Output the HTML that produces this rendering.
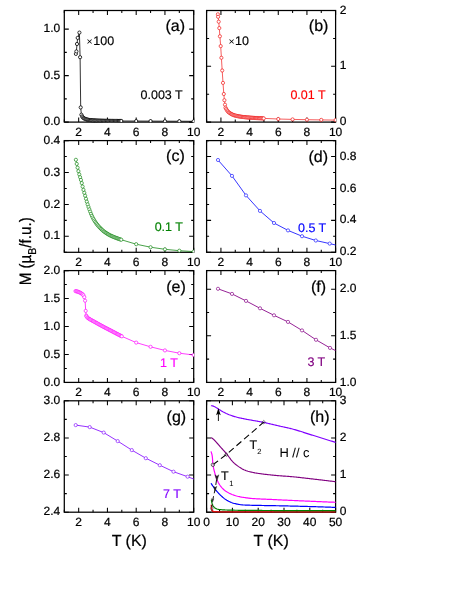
<!DOCTYPE html>
<html><head><meta charset="utf-8"><title>M(T)</title>
<style>
html,body{margin:0;padding:0;background:#fff;}
body{width:463px;height:599px;overflow:hidden;font-family:"Liberation Sans", sans-serif;}
svg{display:block;font-family:"Liberation Sans", sans-serif;text-rendering:geometricPrecision;will-change:transform;}
text{stroke-width:0.22px;stroke-linejoin:round;}
.tk{font-size:12px;fill:#000;stroke:#000;}
</style></head><body>
<svg width="463" height="599" viewBox="0 0 463 599">
<rect width="463" height="599" fill="#fff"/>
<rect x="64.3" y="10.5" width="129.4" height="111.6" fill="none" stroke="#000" stroke-width="1.25"/>
<path d="M78.68 122.1v-4.5M78.68 10.5v4.5M107.43 122.1v-4.5M107.43 10.5v4.5M136.19 122.1v-4.5M136.19 10.5v4.5M164.94 122.1v-4.5M164.94 10.5v4.5M193.7 122.1v-4.5M193.7 10.5v4.5M64.3 122.1v-2.5M64.3 10.5v2.5M93.06 122.1v-2.5M93.06 10.5v2.5M121.81 122.1v-2.5M121.81 10.5v2.5M150.57 122.1v-2.5M150.57 10.5v2.5M179.32 122.1v-2.5M179.32 10.5v2.5M64.3 122.1h4.5M193.7 122.1h-4.5M64.3 75.6h4.5M193.7 75.6h-4.5M64.3 29.1h4.5M193.7 29.1h-4.5M64.3 98.85h2.5M193.7 98.85h-2.5M64.3 52.35h2.5M193.7 52.35h-2.5" fill="none" stroke="#000" stroke-width="1.05"/>
<clipPath id="c1"><rect x="63.8" y="10" width="130.4" height="112.6"/></clipPath>
<text x="78.68" y="135.6" text-anchor="middle" class="tk">2</text>
<text x="107.43" y="135.6" text-anchor="middle" class="tk">4</text>
<text x="136.19" y="135.6" text-anchor="middle" class="tk">6</text>
<text x="164.94" y="135.6" text-anchor="middle" class="tk">8</text>
<text x="193.7" y="135.6" text-anchor="middle" class="tk">10</text>
<text x="60.2" y="125.2" text-anchor="end" class="tk">0.0</text>
<text x="60.2" y="78.7" text-anchor="end" class="tk">0.5</text>
<text x="60.2" y="32.2" text-anchor="end" class="tk">1.0</text>
<path clip-path="url(#c1)" d="M75.9 53.9L76.4 51.4L77 44L77.7 37.9L79.4 32.6L80.1 57.2L80.7 107.4L81.4 114.7L82.1 116.43L82.9 117.49L83.7 118.13L84.5 118.6L85.3 118.95L86.1 119.23L86.9 119.47L87.7 119.68L88.5 119.87L89.3 120.01L90.1 120.11L90.9 120.19L91.7 120.26L92.5 120.33L93.3 120.39L94.1 120.44L94.9 120.49L95.7 120.54L96.5 120.58L97.3 120.61L98.1 120.64L98.9 120.67L99.7 120.69L100.5 120.71L101.3 120.73L102.1 120.75L102.9 120.77L103.7 120.78L104.5 120.8L105.3 120.81L106.1 120.83L106.9 120.84L107.7 120.85L108.5 120.86L109.3 120.88L110.1 120.89L110.9 120.9L111.7 120.91L112.5 120.92L113.3 120.93L114.1 120.93L114.9 120.94L115.7 120.95L116.5 120.96L117.3 120.96L118.1 120.97L118.9 120.98L119.7 120.98L120.5 120.99L121.3 121L136.19 121.06L150.57 121.12L164.94 121.18L179.32 121.24L193.7 121.3" fill="none" stroke="#000" stroke-width="0.8" stroke-linejoin="round" />
<g clip-path="url(#c1)" fill="#fff" stroke="#000" stroke-width="0.8"><circle cx="75.9" cy="53.9" r="1.6"/><circle cx="76.4" cy="51.4" r="1.6"/><circle cx="77" cy="44" r="1.6"/><circle cx="77.7" cy="37.9" r="1.6"/><circle cx="79.4" cy="32.6" r="1.6"/><circle cx="80.1" cy="57.2" r="1.6"/><circle cx="80.7" cy="107.4" r="1.6"/><circle cx="81.4" cy="114.7" r="1.6"/><circle cx="82.1" cy="116.43" r="1.6"/><circle cx="82.9" cy="117.49" r="1.6"/><circle cx="83.7" cy="118.13" r="1.6"/><circle cx="84.5" cy="118.6" r="1.6"/><circle cx="85.3" cy="118.95" r="1.6"/><circle cx="86.1" cy="119.23" r="1.6"/><circle cx="86.9" cy="119.47" r="1.6"/><circle cx="87.7" cy="119.68" r="1.6"/><circle cx="88.5" cy="119.87" r="1.6"/><circle cx="89.3" cy="120.01" r="1.6"/><circle cx="90.1" cy="120.11" r="1.6"/><circle cx="90.9" cy="120.19" r="1.6"/><circle cx="91.7" cy="120.26" r="1.6"/><circle cx="92.5" cy="120.33" r="1.6"/><circle cx="93.3" cy="120.39" r="1.6"/><circle cx="94.1" cy="120.44" r="1.6"/><circle cx="94.9" cy="120.49" r="1.6"/><circle cx="95.7" cy="120.54" r="1.6"/><circle cx="96.5" cy="120.58" r="1.6"/><circle cx="97.3" cy="120.61" r="1.6"/><circle cx="98.1" cy="120.64" r="1.6"/><circle cx="98.9" cy="120.67" r="1.6"/><circle cx="99.7" cy="120.69" r="1.6"/><circle cx="100.5" cy="120.71" r="1.6"/><circle cx="101.3" cy="120.73" r="1.6"/><circle cx="102.1" cy="120.75" r="1.6"/><circle cx="102.9" cy="120.77" r="1.6"/><circle cx="103.7" cy="120.78" r="1.6"/><circle cx="104.5" cy="120.8" r="1.6"/><circle cx="105.3" cy="120.81" r="1.6"/><circle cx="106.1" cy="120.83" r="1.6"/><circle cx="106.9" cy="120.84" r="1.6"/><circle cx="107.7" cy="120.85" r="1.6"/><circle cx="108.5" cy="120.86" r="1.6"/><circle cx="109.3" cy="120.88" r="1.6"/><circle cx="110.1" cy="120.89" r="1.6"/><circle cx="110.9" cy="120.9" r="1.6"/><circle cx="111.7" cy="120.91" r="1.6"/><circle cx="112.5" cy="120.92" r="1.6"/><circle cx="113.3" cy="120.93" r="1.6"/><circle cx="114.1" cy="120.93" r="1.6"/><circle cx="114.9" cy="120.94" r="1.6"/><circle cx="115.7" cy="120.95" r="1.6"/><circle cx="116.5" cy="120.96" r="1.6"/><circle cx="117.3" cy="120.96" r="1.6"/><circle cx="118.1" cy="120.97" r="1.6"/><circle cx="118.9" cy="120.98" r="1.6"/><circle cx="119.7" cy="120.98" r="1.6"/><circle cx="120.5" cy="120.99" r="1.6"/><circle cx="121.3" cy="121" r="1.6"/><circle cx="136.19" cy="121.06" r="1.6"/><circle cx="150.57" cy="121.12" r="1.6"/><circle cx="164.94" cy="121.18" r="1.6"/><circle cx="179.32" cy="121.24" r="1.6"/><circle cx="193.7" cy="121.3" r="1.6"/></g>
<rect x="206.6" y="10.5" width="129" height="111.6" fill="none" stroke="#000" stroke-width="1.25"/>
<path d="M220.93 122.1v-4.5M220.93 10.5v4.5M249.6 122.1v-4.5M249.6 10.5v4.5M278.27 122.1v-4.5M278.27 10.5v4.5M306.93 122.1v-4.5M306.93 10.5v4.5M335.6 122.1v-4.5M335.6 10.5v4.5M206.6 122.1v-2.5M206.6 10.5v2.5M235.27 122.1v-2.5M235.27 10.5v2.5M263.93 122.1v-2.5M263.93 10.5v2.5M292.6 122.1v-2.5M292.6 10.5v2.5M321.27 122.1v-2.5M321.27 10.5v2.5M206.6 122.1h4.5M335.6 122.1h-4.5M206.6 66.3h4.5M335.6 66.3h-4.5M206.6 10.5h4.5M335.6 10.5h-4.5M206.6 94.2h2.5M335.6 94.2h-2.5M206.6 38.4h2.5M335.6 38.4h-2.5" fill="none" stroke="#000" stroke-width="1.05"/>
<clipPath id="c2"><rect x="206.1" y="10" width="130" height="112.6"/></clipPath>
<text x="220.93" y="135.6" text-anchor="middle" class="tk">2</text>
<text x="249.6" y="135.6" text-anchor="middle" class="tk">4</text>
<text x="278.27" y="135.6" text-anchor="middle" class="tk">6</text>
<text x="306.93" y="135.6" text-anchor="middle" class="tk">8</text>
<text x="335.6" y="135.6" text-anchor="middle" class="tk">10</text>
<text x="339.8" y="125.2" text-anchor="start" class="tk">0</text>
<text x="339.8" y="69.4" text-anchor="start" class="tk">1</text>
<text x="339.8" y="13.6" text-anchor="start" class="tk">2</text>
<path clip-path="url(#c2)" d="M217.9 14.3L218.1 16.8L218.7 21.7L219.3 28.1L219.9 36.3L220.7 46.1L221.4 57.8L222.2 70.5L223 82.9L223.8 94L224.4 100.2L225 104.7L225.5 107.7L226.2 109.09L227 110.36L227.8 111.39L228.6 112.16L229.4 112.79L230.2 113.33L231 113.82L231.8 114.28L232.6 114.67L233.4 115L234.2 115.27L235 115.51L235.8 115.72L236.6 115.91L237.4 116.08L238.2 116.24L239 116.38L239.8 116.51L240.6 116.64L241.4 116.75L242.2 116.86L243 116.96L243.8 117.06L244.6 117.15L245.4 117.23L246.2 117.31L247 117.38L247.8 117.45L248.6 117.52L249.4 117.58L250.2 117.64L251 117.7L251.8 117.76L252.6 117.81L253.4 117.86L254.2 117.91L255 117.96L255.8 118.01L256.6 118.05L257.4 118.09L258.2 118.13L259 118.17L259.8 118.21L260.6 118.25L261.4 118.29L262.2 118.32L263 118.36L263.8 118.4L278.27 119L292.6 119.4L306.93 119.7L321.27 119.9L335.6 120.1" fill="none" stroke="#f01818" stroke-width="0.7" stroke-linejoin="round" />
<g clip-path="url(#c2)" fill="#fff" stroke="#f01818" stroke-width="0.7"><circle cx="217.9" cy="14.3" r="1.6"/><circle cx="218.1" cy="16.8" r="1.6"/><circle cx="218.7" cy="21.7" r="1.6"/><circle cx="219.3" cy="28.1" r="1.6"/><circle cx="219.9" cy="36.3" r="1.6"/><circle cx="220.7" cy="46.1" r="1.6"/><circle cx="221.4" cy="57.8" r="1.6"/><circle cx="222.2" cy="70.5" r="1.6"/><circle cx="223" cy="82.9" r="1.6"/><circle cx="223.8" cy="94" r="1.6"/><circle cx="224.4" cy="100.2" r="1.6"/><circle cx="225" cy="104.7" r="1.6"/><circle cx="225.5" cy="107.7" r="1.6"/><circle cx="226.2" cy="109.09" r="1.6"/><circle cx="227" cy="110.36" r="1.6"/><circle cx="227.8" cy="111.39" r="1.6"/><circle cx="228.6" cy="112.16" r="1.6"/><circle cx="229.4" cy="112.79" r="1.6"/><circle cx="230.2" cy="113.33" r="1.6"/><circle cx="231" cy="113.82" r="1.6"/><circle cx="231.8" cy="114.28" r="1.6"/><circle cx="232.6" cy="114.67" r="1.6"/><circle cx="233.4" cy="115" r="1.6"/><circle cx="234.2" cy="115.27" r="1.6"/><circle cx="235" cy="115.51" r="1.6"/><circle cx="235.8" cy="115.72" r="1.6"/><circle cx="236.6" cy="115.91" r="1.6"/><circle cx="237.4" cy="116.08" r="1.6"/><circle cx="238.2" cy="116.24" r="1.6"/><circle cx="239" cy="116.38" r="1.6"/><circle cx="239.8" cy="116.51" r="1.6"/><circle cx="240.6" cy="116.64" r="1.6"/><circle cx="241.4" cy="116.75" r="1.6"/><circle cx="242.2" cy="116.86" r="1.6"/><circle cx="243" cy="116.96" r="1.6"/><circle cx="243.8" cy="117.06" r="1.6"/><circle cx="244.6" cy="117.15" r="1.6"/><circle cx="245.4" cy="117.23" r="1.6"/><circle cx="246.2" cy="117.31" r="1.6"/><circle cx="247" cy="117.38" r="1.6"/><circle cx="247.8" cy="117.45" r="1.6"/><circle cx="248.6" cy="117.52" r="1.6"/><circle cx="249.4" cy="117.58" r="1.6"/><circle cx="250.2" cy="117.64" r="1.6"/><circle cx="251" cy="117.7" r="1.6"/><circle cx="251.8" cy="117.76" r="1.6"/><circle cx="252.6" cy="117.81" r="1.6"/><circle cx="253.4" cy="117.86" r="1.6"/><circle cx="254.2" cy="117.91" r="1.6"/><circle cx="255" cy="117.96" r="1.6"/><circle cx="255.8" cy="118.01" r="1.6"/><circle cx="256.6" cy="118.05" r="1.6"/><circle cx="257.4" cy="118.09" r="1.6"/><circle cx="258.2" cy="118.13" r="1.6"/><circle cx="259" cy="118.17" r="1.6"/><circle cx="259.8" cy="118.21" r="1.6"/><circle cx="260.6" cy="118.25" r="1.6"/><circle cx="261.4" cy="118.29" r="1.6"/><circle cx="262.2" cy="118.32" r="1.6"/><circle cx="263" cy="118.36" r="1.6"/><circle cx="263.8" cy="118.4" r="1.6"/><circle cx="278.27" cy="119" r="1.6"/><circle cx="292.6" cy="119.4" r="1.6"/><circle cx="306.93" cy="119.7" r="1.6"/><circle cx="321.27" cy="119.9" r="1.6"/><circle cx="335.6" cy="120.1" r="1.6"/></g>
<rect x="64.3" y="140.6" width="129.4" height="111.7" fill="none" stroke="#000" stroke-width="1.25"/>
<path d="M78.68 252.3v-4.5M78.68 140.6v4.5M107.43 252.3v-4.5M107.43 140.6v4.5M136.19 252.3v-4.5M136.19 140.6v4.5M164.94 252.3v-4.5M164.94 140.6v4.5M193.7 252.3v-4.5M193.7 140.6v4.5M64.3 252.3v-2.5M64.3 140.6v2.5M93.06 252.3v-2.5M93.06 140.6v2.5M121.81 252.3v-2.5M121.81 140.6v2.5M150.57 252.3v-2.5M150.57 140.6v2.5M179.32 252.3v-2.5M179.32 140.6v2.5M64.3 236.34h4.5M193.7 236.34h-4.5M64.3 204.43h4.5M193.7 204.43h-4.5M64.3 172.51h4.5M193.7 172.51h-4.5M64.3 140.6h4.5M193.7 140.6h-4.5M64.3 252.3h2.5M193.7 252.3h-2.5M64.3 220.39h2.5M193.7 220.39h-2.5M64.3 188.47h2.5M193.7 188.47h-2.5M64.3 156.56h2.5M193.7 156.56h-2.5" fill="none" stroke="#000" stroke-width="1.05"/>
<clipPath id="c3"><rect x="63.8" y="140.1" width="130.4" height="112.7"/></clipPath>
<text x="78.68" y="265.8" text-anchor="middle" class="tk">2</text>
<text x="107.43" y="265.8" text-anchor="middle" class="tk">4</text>
<text x="136.19" y="265.8" text-anchor="middle" class="tk">6</text>
<text x="164.94" y="265.8" text-anchor="middle" class="tk">8</text>
<text x="193.7" y="265.8" text-anchor="middle" class="tk">10</text>
<text x="60.2" y="239.44" text-anchor="end" class="tk">0.1</text>
<text x="60.2" y="207.53" text-anchor="end" class="tk">0.2</text>
<text x="60.2" y="175.61" text-anchor="end" class="tk">0.3</text>
<text x="60.2" y="143.7" text-anchor="end" class="tk">0.4</text>
<path clip-path="url(#c3)" d="M75.9 159.8L76.74 163.91L77.58 167.68L78.42 171.15L79.26 174.35L80.1 177.2L80.94 179.93L81.78 183.07L82.62 186.58L83.46 189.86L84.3 192.83L85.14 195.74L85.98 198.76L86.82 201.7L87.66 204.4L88.5 206.94L89.34 209.35L90.18 211.66L91.02 213.79L91.86 215.74L92.7 217.5L93.54 219.1L94.38 220.58L95.22 221.94L96.06 223.15L96.9 224.27L97.74 225.32L98.58 226.3L99.42 227.22L100.26 228.09L101.1 228.92L101.94 229.72L102.78 230.47L103.62 231.17L104.46 231.82L105.3 232.43L106.14 233.01L106.98 233.56L107.82 234.08L108.66 234.58L109.5 235.04L110.34 235.47L111.18 235.88L112.02 236.26L112.86 236.62L113.7 236.97L114.54 237.31L115.38 237.64L116.22 237.96L117.06 238.27L117.9 238.58L118.74 238.87L119.58 239.16L120.42 239.45L121.26 239.72L136.19 244.2L150.57 247.21L164.94 249.31L179.32 250.7L193.7 251.6" fill="none" stroke="#1a8a1a" stroke-width="0.8" stroke-linejoin="round" />
<g clip-path="url(#c3)" fill="#fff" stroke="#1a8a1a" stroke-width="0.7"><circle cx="75.9" cy="159.8" r="1.6"/><circle cx="76.74" cy="163.91" r="1.6"/><circle cx="77.58" cy="167.68" r="1.6"/><circle cx="78.42" cy="171.15" r="1.6"/><circle cx="79.26" cy="174.35" r="1.6"/><circle cx="80.1" cy="177.2" r="1.6"/><circle cx="80.94" cy="179.93" r="1.6"/><circle cx="81.78" cy="183.07" r="1.6"/><circle cx="82.62" cy="186.58" r="1.6"/><circle cx="83.46" cy="189.86" r="1.6"/><circle cx="84.3" cy="192.83" r="1.6"/><circle cx="85.14" cy="195.74" r="1.6"/><circle cx="85.98" cy="198.76" r="1.6"/><circle cx="86.82" cy="201.7" r="1.6"/><circle cx="87.66" cy="204.4" r="1.6"/><circle cx="88.5" cy="206.94" r="1.6"/><circle cx="89.34" cy="209.35" r="1.6"/><circle cx="90.18" cy="211.66" r="1.6"/><circle cx="91.02" cy="213.79" r="1.6"/><circle cx="91.86" cy="215.74" r="1.6"/><circle cx="92.7" cy="217.5" r="1.6"/><circle cx="93.54" cy="219.1" r="1.6"/><circle cx="94.38" cy="220.58" r="1.6"/><circle cx="95.22" cy="221.94" r="1.6"/><circle cx="96.06" cy="223.15" r="1.6"/><circle cx="96.9" cy="224.27" r="1.6"/><circle cx="97.74" cy="225.32" r="1.6"/><circle cx="98.58" cy="226.3" r="1.6"/><circle cx="99.42" cy="227.22" r="1.6"/><circle cx="100.26" cy="228.09" r="1.6"/><circle cx="101.1" cy="228.92" r="1.6"/><circle cx="101.94" cy="229.72" r="1.6"/><circle cx="102.78" cy="230.47" r="1.6"/><circle cx="103.62" cy="231.17" r="1.6"/><circle cx="104.46" cy="231.82" r="1.6"/><circle cx="105.3" cy="232.43" r="1.6"/><circle cx="106.14" cy="233.01" r="1.6"/><circle cx="106.98" cy="233.56" r="1.6"/><circle cx="107.82" cy="234.08" r="1.6"/><circle cx="108.66" cy="234.58" r="1.6"/><circle cx="109.5" cy="235.04" r="1.6"/><circle cx="110.34" cy="235.47" r="1.6"/><circle cx="111.18" cy="235.88" r="1.6"/><circle cx="112.02" cy="236.26" r="1.6"/><circle cx="112.86" cy="236.62" r="1.6"/><circle cx="113.7" cy="236.97" r="1.6"/><circle cx="114.54" cy="237.31" r="1.6"/><circle cx="115.38" cy="237.64" r="1.6"/><circle cx="116.22" cy="237.96" r="1.6"/><circle cx="117.06" cy="238.27" r="1.6"/><circle cx="117.9" cy="238.58" r="1.6"/><circle cx="118.74" cy="238.87" r="1.6"/><circle cx="119.58" cy="239.16" r="1.6"/><circle cx="120.42" cy="239.45" r="1.6"/><circle cx="121.26" cy="239.72" r="1.6"/><circle cx="136.19" cy="244.2" r="1.6"/><circle cx="150.57" cy="247.21" r="1.6"/><circle cx="164.94" cy="249.31" r="1.6"/><circle cx="179.32" cy="250.7" r="1.6"/><circle cx="193.7" cy="251.6" r="1.6"/></g>
<rect x="206.6" y="140.6" width="129" height="111.7" fill="none" stroke="#000" stroke-width="1.25"/>
<path d="M220.93 252.3v-4.5M220.93 140.6v4.5M249.6 252.3v-4.5M249.6 140.6v4.5M278.27 252.3v-4.5M278.27 140.6v4.5M306.93 252.3v-4.5M306.93 140.6v4.5M335.6 252.3v-4.5M335.6 140.6v4.5M206.6 252.3v-2.5M206.6 140.6v2.5M235.27 252.3v-2.5M235.27 140.6v2.5M263.93 252.3v-2.5M263.93 140.6v2.5M292.6 252.3v-2.5M292.6 140.6v2.5M321.27 252.3v-2.5M321.27 140.6v2.5M206.6 252.3h4.5M335.6 252.3h-4.5M206.6 220.39h4.5M335.6 220.39h-4.5M206.6 188.47h4.5M335.6 188.47h-4.5M206.6 156.56h4.5M335.6 156.56h-4.5M206.6 236.34h2.5M335.6 236.34h-2.5M206.6 204.43h2.5M335.6 204.43h-2.5M206.6 172.51h2.5M335.6 172.51h-2.5M206.6 140.6h2.5M335.6 140.6h-2.5" fill="none" stroke="#000" stroke-width="1.05"/>
<clipPath id="c4"><rect x="206.1" y="140.1" width="130" height="112.7"/></clipPath>
<text x="220.93" y="265.8" text-anchor="middle" class="tk">2</text>
<text x="249.6" y="265.8" text-anchor="middle" class="tk">4</text>
<text x="278.27" y="265.8" text-anchor="middle" class="tk">6</text>
<text x="306.93" y="265.8" text-anchor="middle" class="tk">8</text>
<text x="335.6" y="265.8" text-anchor="middle" class="tk">10</text>
<text x="339.8" y="255.4" text-anchor="start" class="tk">0.2</text>
<text x="339.8" y="223.49" text-anchor="start" class="tk">0.4</text>
<text x="339.8" y="191.57" text-anchor="start" class="tk">0.6</text>
<text x="339.8" y="159.66" text-anchor="start" class="tk">0.8</text>
<path clip-path="url(#c4)" d="M218 160L232 175.9L246 195.4L260 210.9L274 223L288 230.4L302 236.2L315.8 240.5L329.7 243.6L335.6 245" fill="none" stroke="#2020ff" stroke-width="0.9" stroke-linejoin="round" />
<g clip-path="url(#c4)" fill="#fff" stroke="#2020ff" stroke-width="0.7"><circle cx="218" cy="160" r="1.6"/><circle cx="232" cy="175.9" r="1.6"/><circle cx="246" cy="195.4" r="1.6"/><circle cx="260" cy="210.9" r="1.6"/><circle cx="274" cy="223" r="1.6"/><circle cx="288" cy="230.4" r="1.6"/><circle cx="302" cy="236.2" r="1.6"/><circle cx="315.8" cy="240.5" r="1.6"/><circle cx="329.7" cy="243.6" r="1.6"/></g>
<rect x="64.3" y="270.6" width="129.4" height="111.8" fill="none" stroke="#000" stroke-width="1.25"/>
<path d="M78.68 382.4v-4.5M78.68 270.6v4.5M107.43 382.4v-4.5M107.43 270.6v4.5M136.19 382.4v-4.5M136.19 270.6v4.5M164.94 382.4v-4.5M164.94 270.6v4.5M193.7 382.4v-4.5M193.7 270.6v4.5M64.3 382.4v-2.5M64.3 270.6v2.5M93.06 382.4v-2.5M93.06 270.6v2.5M121.81 382.4v-2.5M121.81 270.6v2.5M150.57 382.4v-2.5M150.57 270.6v2.5M179.32 382.4v-2.5M179.32 270.6v2.5M64.3 382.4h4.5M193.7 382.4h-4.5M64.3 354.45h4.5M193.7 354.45h-4.5M64.3 326.5h4.5M193.7 326.5h-4.5M64.3 298.55h4.5M193.7 298.55h-4.5M64.3 270.6h4.5M193.7 270.6h-4.5M64.3 368.42h2.5M193.7 368.42h-2.5M64.3 340.48h2.5M193.7 340.48h-2.5M64.3 312.52h2.5M193.7 312.52h-2.5M64.3 284.58h2.5M193.7 284.58h-2.5" fill="none" stroke="#000" stroke-width="1.05"/>
<clipPath id="c5"><rect x="63.8" y="270.1" width="130.4" height="112.8"/></clipPath>
<text x="78.68" y="395.9" text-anchor="middle" class="tk">2</text>
<text x="107.43" y="395.9" text-anchor="middle" class="tk">4</text>
<text x="136.19" y="395.9" text-anchor="middle" class="tk">6</text>
<text x="164.94" y="395.9" text-anchor="middle" class="tk">8</text>
<text x="193.7" y="395.9" text-anchor="middle" class="tk">10</text>
<text x="60.2" y="385.5" text-anchor="end" class="tk">0.0</text>
<text x="60.2" y="357.55" text-anchor="end" class="tk">0.5</text>
<text x="60.2" y="329.6" text-anchor="end" class="tk">1.0</text>
<text x="60.2" y="301.65" text-anchor="end" class="tk">1.5</text>
<text x="60.2" y="273.7" text-anchor="end" class="tk">2.0</text>
<path clip-path="url(#c5)" d="M75.5 291.1L76.3 291.26L77.1 291.47L77.9 291.72L78.7 292.01L79.5 292.37L80.3 292.8L81.1 293.27L81.9 293.78L82.7 294.38L83.5 295.34L84.3 297.19L85.1 300.7L85.7 310.9L86.2 315.6L86.6 316.52L87.4 317.61L88.2 318.2L89 318.74L89.8 319.24L90.6 319.7L91.4 320.15L92.2 320.58L93 321.02L93.8 321.47L94.6 321.92L95.4 322.37L96.2 322.82L97 323.27L97.8 323.71L98.6 324.15L99.4 324.59L100.2 325.03L101 325.47L101.8 325.9L102.6 326.33L103.4 326.76L104.2 327.19L105 327.61L105.8 328.03L106.6 328.45L107.4 328.86L108.2 329.28L109 329.69L109.8 330.1L110.6 330.51L111.4 330.93L112.2 331.34L113 331.76L113.8 332.17L114.6 332.6L115.4 333.02L116.2 333.44L117 333.87L117.8 334.29L118.6 334.7L119.4 335.11L120.2 335.52L121 335.91L121.8 336.3L136.19 342.6L150.57 346.82L164.94 350.41L179.32 353.2L193.7 355" fill="none" stroke="#ff10ff" stroke-width="0.8" stroke-linejoin="round" />
<g clip-path="url(#c5)" fill="#fff" stroke="#ff10ff" stroke-width="0.7"><circle cx="75.5" cy="291.1" r="1.6"/><circle cx="76.3" cy="291.26" r="1.6"/><circle cx="77.1" cy="291.47" r="1.6"/><circle cx="77.9" cy="291.72" r="1.6"/><circle cx="78.7" cy="292.01" r="1.6"/><circle cx="79.5" cy="292.37" r="1.6"/><circle cx="80.3" cy="292.8" r="1.6"/><circle cx="81.1" cy="293.27" r="1.6"/><circle cx="81.9" cy="293.78" r="1.6"/><circle cx="82.7" cy="294.38" r="1.6"/><circle cx="83.5" cy="295.34" r="1.6"/><circle cx="84.3" cy="297.19" r="1.6"/><circle cx="85.1" cy="300.7" r="1.6"/><circle cx="85.7" cy="310.9" r="1.6"/><circle cx="86.2" cy="315.6" r="1.6"/><circle cx="86.6" cy="316.52" r="1.6"/><circle cx="87.4" cy="317.61" r="1.6"/><circle cx="88.2" cy="318.2" r="1.6"/><circle cx="89" cy="318.74" r="1.6"/><circle cx="89.8" cy="319.24" r="1.6"/><circle cx="90.6" cy="319.7" r="1.6"/><circle cx="91.4" cy="320.15" r="1.6"/><circle cx="92.2" cy="320.58" r="1.6"/><circle cx="93" cy="321.02" r="1.6"/><circle cx="93.8" cy="321.47" r="1.6"/><circle cx="94.6" cy="321.92" r="1.6"/><circle cx="95.4" cy="322.37" r="1.6"/><circle cx="96.2" cy="322.82" r="1.6"/><circle cx="97" cy="323.27" r="1.6"/><circle cx="97.8" cy="323.71" r="1.6"/><circle cx="98.6" cy="324.15" r="1.6"/><circle cx="99.4" cy="324.59" r="1.6"/><circle cx="100.2" cy="325.03" r="1.6"/><circle cx="101" cy="325.47" r="1.6"/><circle cx="101.8" cy="325.9" r="1.6"/><circle cx="102.6" cy="326.33" r="1.6"/><circle cx="103.4" cy="326.76" r="1.6"/><circle cx="104.2" cy="327.19" r="1.6"/><circle cx="105" cy="327.61" r="1.6"/><circle cx="105.8" cy="328.03" r="1.6"/><circle cx="106.6" cy="328.45" r="1.6"/><circle cx="107.4" cy="328.86" r="1.6"/><circle cx="108.2" cy="329.28" r="1.6"/><circle cx="109" cy="329.69" r="1.6"/><circle cx="109.8" cy="330.1" r="1.6"/><circle cx="110.6" cy="330.51" r="1.6"/><circle cx="111.4" cy="330.93" r="1.6"/><circle cx="112.2" cy="331.34" r="1.6"/><circle cx="113" cy="331.76" r="1.6"/><circle cx="113.8" cy="332.17" r="1.6"/><circle cx="114.6" cy="332.6" r="1.6"/><circle cx="115.4" cy="333.02" r="1.6"/><circle cx="116.2" cy="333.44" r="1.6"/><circle cx="117" cy="333.87" r="1.6"/><circle cx="117.8" cy="334.29" r="1.6"/><circle cx="118.6" cy="334.7" r="1.6"/><circle cx="119.4" cy="335.11" r="1.6"/><circle cx="120.2" cy="335.52" r="1.6"/><circle cx="121" cy="335.91" r="1.6"/><circle cx="121.8" cy="336.3" r="1.6"/><circle cx="136.19" cy="342.6" r="1.6"/><circle cx="150.57" cy="346.82" r="1.6"/><circle cx="164.94" cy="350.41" r="1.6"/><circle cx="179.32" cy="353.2" r="1.6"/><circle cx="193.7" cy="355" r="1.6"/></g>
<rect x="206.6" y="270.6" width="129" height="111.8" fill="none" stroke="#000" stroke-width="1.25"/>
<path d="M220.93 382.4v-4.5M220.93 270.6v4.5M249.6 382.4v-4.5M249.6 270.6v4.5M278.27 382.4v-4.5M278.27 270.6v4.5M306.93 382.4v-4.5M306.93 270.6v4.5M335.6 382.4v-4.5M335.6 270.6v4.5M206.6 382.4v-2.5M206.6 270.6v2.5M235.27 382.4v-2.5M235.27 270.6v2.5M263.93 382.4v-2.5M263.93 270.6v2.5M292.6 382.4v-2.5M292.6 270.6v2.5M321.27 382.4v-2.5M321.27 270.6v2.5M206.6 382.4h4.5M335.6 382.4h-4.5M206.6 335.82h4.5M335.6 335.82h-4.5M206.6 289.23h4.5M335.6 289.23h-4.5M206.6 359.11h2.5M335.6 359.11h-2.5M206.6 312.53h2.5M335.6 312.53h-2.5" fill="none" stroke="#000" stroke-width="1.05"/>
<clipPath id="c6"><rect x="206.1" y="270.1" width="130" height="112.8"/></clipPath>
<text x="220.93" y="395.9" text-anchor="middle" class="tk">2</text>
<text x="249.6" y="395.9" text-anchor="middle" class="tk">4</text>
<text x="278.27" y="395.9" text-anchor="middle" class="tk">6</text>
<text x="306.93" y="395.9" text-anchor="middle" class="tk">8</text>
<text x="335.6" y="395.9" text-anchor="middle" class="tk">10</text>
<text x="339.8" y="385.5" text-anchor="start" class="tk">1.0</text>
<text x="339.8" y="338.92" text-anchor="start" class="tk">1.5</text>
<text x="339.8" y="292.33" text-anchor="start" class="tk">2.0</text>
<path clip-path="url(#c6)" d="M218 288.8L232 293.9L246 300.9L260 308.3L274 315.3L288 321.9L302 330.4L316 339.8L330 347.9L335.6 350.6" fill="none" stroke="#8a0a8a" stroke-width="0.9" stroke-linejoin="round" />
<g clip-path="url(#c6)" fill="#fff" stroke="#8a0a8a" stroke-width="0.7"><circle cx="218" cy="288.8" r="1.6"/><circle cx="232" cy="293.9" r="1.6"/><circle cx="246" cy="300.9" r="1.6"/><circle cx="260" cy="308.3" r="1.6"/><circle cx="274" cy="315.3" r="1.6"/><circle cx="288" cy="321.9" r="1.6"/><circle cx="302" cy="330.4" r="1.6"/><circle cx="316" cy="339.8" r="1.6"/><circle cx="330" cy="347.9" r="1.6"/></g>
<rect x="64.3" y="400.8" width="129.4" height="111.4" fill="none" stroke="#000" stroke-width="1.25"/>
<path d="M78.68 512.2v-4.5M78.68 400.8v4.5M107.43 512.2v-4.5M107.43 400.8v4.5M136.19 512.2v-4.5M136.19 400.8v4.5M164.94 512.2v-4.5M164.94 400.8v4.5M193.7 512.2v-4.5M193.7 400.8v4.5M64.3 512.2v-2.5M64.3 400.8v2.5M93.06 512.2v-2.5M93.06 400.8v2.5M121.81 512.2v-2.5M121.81 400.8v2.5M150.57 512.2v-2.5M150.57 400.8v2.5M179.32 512.2v-2.5M179.32 400.8v2.5M64.3 512.2h4.5M193.7 512.2h-4.5M64.3 475.07h4.5M193.7 475.07h-4.5M64.3 437.93h4.5M193.7 437.93h-4.5M64.3 400.8h4.5M193.7 400.8h-4.5M64.3 493.63h2.5M193.7 493.63h-2.5M64.3 456.5h2.5M193.7 456.5h-2.5M64.3 419.37h2.5M193.7 419.37h-2.5" fill="none" stroke="#000" stroke-width="1.05"/>
<clipPath id="c7"><rect x="63.8" y="400.3" width="130.4" height="112.4"/></clipPath>
<text x="78.68" y="526.3" text-anchor="middle" class="tk">2</text>
<text x="107.43" y="526.3" text-anchor="middle" class="tk">4</text>
<text x="136.19" y="526.3" text-anchor="middle" class="tk">6</text>
<text x="164.94" y="526.3" text-anchor="middle" class="tk">8</text>
<text x="193.7" y="526.3" text-anchor="middle" class="tk">10</text>
<text x="60.2" y="515.3" text-anchor="end" class="tk">2.4</text>
<text x="60.2" y="478.17" text-anchor="end" class="tk">2.6</text>
<text x="60.2" y="441.03" text-anchor="end" class="tk">2.8</text>
<text x="60.2" y="403.9" text-anchor="end" class="tk">3.0</text>
<path clip-path="url(#c7)" d="M75.7 425.1L89.7 427.1L103.7 432.6L117.7 441.1L131.8 450.1L145.8 458.2L159.8 465.2L173.5 471.7L187.6 476.7L193.9 479.1" fill="none" stroke="#8a1aff" stroke-width="0.9" stroke-linejoin="round" />
<g clip-path="url(#c7)" fill="#fff" stroke="#8a1aff" stroke-width="0.7"><circle cx="75.7" cy="425.1" r="1.6"/><circle cx="89.7" cy="427.1" r="1.6"/><circle cx="103.7" cy="432.6" r="1.6"/><circle cx="117.7" cy="441.1" r="1.6"/><circle cx="131.8" cy="450.1" r="1.6"/><circle cx="145.8" cy="458.2" r="1.6"/><circle cx="159.8" cy="465.2" r="1.6"/><circle cx="173.5" cy="471.7" r="1.6"/><circle cx="187.6" cy="476.7" r="1.6"/></g>
<rect x="206.6" y="400.8" width="129" height="111.4" fill="none" stroke="#000" stroke-width="1.25"/>
<path d="M206.6 512.2v-4.5M206.6 400.8v4.5M232.4 512.2v-4.5M232.4 400.8v4.5M258.2 512.2v-4.5M258.2 400.8v4.5M284 512.2v-4.5M284 400.8v4.5M309.8 512.2v-4.5M309.8 400.8v4.5M335.6 512.2v-4.5M335.6 400.8v4.5M219.5 512.2v-2.5M219.5 400.8v2.5M245.3 512.2v-2.5M245.3 400.8v2.5M271.1 512.2v-2.5M271.1 400.8v2.5M296.9 512.2v-2.5M296.9 400.8v2.5M322.7 512.2v-2.5M322.7 400.8v2.5M206.6 512.2h4.5M335.6 512.2h-4.5M206.6 475.07h4.5M335.6 475.07h-4.5M206.6 437.93h4.5M335.6 437.93h-4.5M206.6 400.8h4.5M335.6 400.8h-4.5M206.6 493.63h2.5M335.6 493.63h-2.5M206.6 456.5h2.5M335.6 456.5h-2.5M206.6 419.37h2.5M335.6 419.37h-2.5" fill="none" stroke="#000" stroke-width="1.05"/>
<clipPath id="c8"><rect x="206.1" y="400.3" width="130" height="112.4"/></clipPath>
<text x="206.6" y="526.3" text-anchor="middle" class="tk">0</text>
<text x="232.4" y="526.3" text-anchor="middle" class="tk">10</text>
<text x="258.2" y="526.3" text-anchor="middle" class="tk">20</text>
<text x="284" y="526.3" text-anchor="middle" class="tk">30</text>
<text x="309.8" y="526.3" text-anchor="middle" class="tk">40</text>
<text x="335.6" y="526.3" text-anchor="middle" class="tk">50</text>
<text x="339.8" y="515.3" text-anchor="start" class="tk">0</text>
<text x="339.8" y="478.17" text-anchor="start" class="tk">1</text>
<text x="339.8" y="441.03" text-anchor="start" class="tk">2</text>
<text x="339.8" y="403.9" text-anchor="start" class="tk">3</text>
<path clip-path="url(#c8)" d="M211.2 509L211.53 508.09L211.68 508.2L211.76 509.06L211.82 510.2L211.9 511.17L212.08 511.55L212.68 511.71L213.62 511.83L214.6 511.89L215.44 511.9L216.24 511.9L217.04 511.9L217.84 511.91L218.64 511.91L219.45 511.91L220.25 511.91L221.05 511.91L221.85 511.92L222.65 511.92L223.46 511.92L224.26 511.92L225.06 511.92L225.86 511.92L226.66 511.93L227.47 511.93L228.27 511.93L229.07 511.93L229.87 511.93L230.68 511.93L231.48 511.93L232.28 511.94L233.08 511.94L233.89 511.94L234.69 511.94L235.49 511.94L236.3 511.94L237.1 511.94L237.9 511.95L238.7 511.95L239.51 511.95L240.31 511.95L241.11 511.95L241.92 511.95L242.72 511.95L243.52 511.95L244.33 511.96L245.13 511.96L245.93 511.96L246.74 511.96L247.54 511.96L248.34 511.96L249.15 511.96L249.95 511.96L250.76 511.96L251.56 511.96L252.36 511.97L253.17 511.97L253.97 511.97L254.78 511.97L255.58 511.97L256.38 511.97L257.19 511.97L257.99 511.97L258.8 511.97L259.6 511.97L260.41 511.97L261.21 511.98L262.02 511.98L262.82 511.98L263.62 511.98L264.43 511.98L265.23 511.98L266.04 511.98L266.84 511.98L267.65 511.98L268.46 511.98L269.26 511.98L270.07 511.98L270.87 511.98L271.68 511.98L272.48 511.98L273.29 511.98L274.09 511.99L274.9 511.99L275.71 511.99L276.51 511.99L277.32 511.99L278.12 511.99L278.93 511.99L279.74 511.99L280.54 511.99L281.35 511.99L282.16 511.99L282.96 511.99L283.77 511.99L284.58 511.99L285.38 511.99L286.19 511.99L287 511.99L287.8 511.99L288.61 511.99L289.42 511.99L290.23 511.99L291.03 511.99L291.84 511.99L292.65 511.99L293.46 511.99L294.26 512L295.07 512L295.88 512L296.69 512L297.5 512L298.31 512L299.11 512L299.92 512L300.73 512L301.54 512L302.35 512L303.16 512L303.97 512L304.78 512L305.58 512L306.39 512L307.2 512L308.01 512L308.82 512L309.63 512L310.44 512L311.25 512L312.06 512L312.87 512L313.68 512L314.49 512L315.3 512L316.11 512L316.92 512L317.73 512L318.55 512L319.36 512L320.17 512L320.98 512L321.79 512L322.6 512L323.41 512L324.22 512L325.04 512L325.85 512L326.66 512L327.47 512L328.28 512L329.1 512L329.91 512L330.72 512L331.53 512L332.35 512L333.16 512L333.97 512L334.79 512L335.6 512" fill="none" stroke="#000" stroke-width="1.0" stroke-linejoin="round" />
<path clip-path="url(#c8)" d="M211.4 504.8L211.41 505.72L211.46 506.59L211.52 507.42L211.62 508.21L211.74 508.97L211.87 509.68L212.17 510.45L212.73 511.2L213.37 511.6L214.02 511.67L214.73 511.73L215.5 511.78L216.31 511.83L217.15 511.86L218.02 511.89L218.9 511.92L219.78 511.93L220.65 511.94L221.5 511.95L222.32 511.95L223.14 511.95L223.95 511.95L224.77 511.95L225.58 511.95L226.4 511.96L227.21 511.96L228.03 511.96L228.84 511.96L229.65 511.96L230.47 511.96L231.28 511.96L232.1 511.96L232.91 511.96L233.73 511.96L234.54 511.96L235.36 511.96L236.17 511.97L236.99 511.97L237.8 511.97L238.61 511.97L239.43 511.97L240.24 511.97L241.06 511.97L241.87 511.97L242.69 511.97L243.5 511.97L244.32 511.97L245.13 511.97L245.95 511.97L246.76 511.97L247.58 511.98L248.39 511.98L249.2 511.98L250.02 511.98L250.83 511.98L251.65 511.98L252.46 511.98L253.28 511.98L254.09 511.98L254.91 511.98L255.72 511.98L256.54 511.98L257.35 511.98L258.17 511.98L258.98 511.98L259.8 511.98L260.61 511.98L261.42 511.98L262.24 511.98L263.05 511.99L263.87 511.99L264.68 511.99L265.5 511.99L266.31 511.99L267.13 511.99L267.94 511.99L268.76 511.99L269.57 511.99L270.39 511.99L271.2 511.99L272.02 511.99L272.83 511.99L273.65 511.99L274.46 511.99L275.28 511.99L276.09 511.99L276.91 511.99L277.72 511.99L278.54 511.99L279.35 511.99L280.17 511.99L280.98 511.99L281.8 511.99L282.61 511.99L283.43 511.99L284.24 511.99L285.06 511.99L285.87 511.99L286.69 511.99L287.5 511.99L288.32 512L289.13 512L289.95 512L290.76 512L291.58 512L292.39 512L293.21 512L294.02 512L294.84 512L295.65 512L296.47 512L297.28 512L298.1 512L298.91 512L299.73 512L300.54 512L301.36 512L302.17 512L302.99 512L303.8 512L304.62 512L305.43 512L306.25 512L307.06 512L307.88 512L308.69 512L309.51 512L310.32 512L311.14 512L311.95 512L312.77 512L313.58 512L314.4 512L315.21 512L316.03 512L316.85 512L317.66 512L318.48 512L319.29 512L320.11 512L320.92 512L321.74 512L322.55 512L323.37 512L324.18 512L325 512L325.81 512L326.63 512L327.44 512L328.26 512L329.08 512L329.89 512L330.71 512L331.52 512L332.34 512L333.15 512L333.97 512L334.78 512L335.6 512" fill="none" stroke="#e01010" stroke-width="1.5" stroke-linejoin="round" />
<path clip-path="url(#c8)" d="M211.4 499.7L211.46 500.56L211.58 501.4L211.76 502.21L211.97 503L212.22 503.76L212.49 504.51L212.79 505.24L213.18 506L213.66 506.73L214.2 507.38L214.77 507.88L215.41 508.27L216.14 508.63L216.93 508.95L217.75 509.21L218.58 509.41L219.39 509.52L220.18 509.6L220.98 509.68L221.79 509.75L222.61 509.81L223.43 509.86L224.25 509.9L225.08 509.95L225.9 509.98L226.73 510.02L227.55 510.04L228.38 510.07L229.2 510.09L230.01 510.12L230.83 510.14L231.65 510.16L232.47 510.18L233.29 510.19L234.11 510.21L234.92 510.23L235.74 510.24L236.56 510.26L237.38 510.27L238.2 510.28L239.02 510.29L239.83 510.3L240.65 510.31L241.47 510.32L242.29 510.33L243.11 510.34L243.93 510.35L244.75 510.36L245.56 510.36L246.38 510.37L247.2 510.38L248.02 510.38L248.84 510.39L249.66 510.4L250.48 510.4L251.29 510.41L252.11 510.41L252.93 510.42L253.75 510.43L254.57 510.43L255.39 510.44L256.2 510.44L257.02 510.45L257.84 510.45L258.66 510.46L259.48 510.46L260.3 510.46L261.12 510.47L261.93 510.47L262.75 510.48L263.57 510.48L264.39 510.49L265.21 510.49L266.03 510.49L266.85 510.5L267.66 510.5L268.48 510.5L269.3 510.51L270.12 510.51L270.94 510.51L271.76 510.52L272.57 510.52L273.39 510.52L274.21 510.53L275.03 510.53L275.85 510.53L276.67 510.54L277.49 510.54L278.3 510.54L279.12 510.55L279.94 510.55L280.76 510.55L281.58 510.56L282.4 510.56L283.22 510.56L284.03 510.56L284.85 510.57L285.67 510.57L286.49 510.57L287.31 510.58L288.13 510.58L288.95 510.58L289.76 510.59L290.58 510.59L291.4 510.59L292.22 510.59L293.04 510.6L293.86 510.6L294.67 510.6L295.49 510.61L296.31 510.61L297.13 510.61L297.95 510.61L298.77 510.62L299.59 510.62L300.4 510.62L301.22 510.62L302.04 510.63L302.86 510.63L303.68 510.63L304.5 510.63L305.32 510.64L306.13 510.64L306.95 510.64L307.77 510.64L308.59 510.65L309.41 510.65L310.23 510.65L311.04 510.65L311.86 510.66L312.68 510.66L313.5 510.66L314.32 510.66L315.14 510.66L315.96 510.67L316.77 510.67L317.59 510.67L318.41 510.67L319.23 510.67L320.05 510.68L320.87 510.68L321.69 510.68L322.5 510.68L323.32 510.68L324.14 510.68L324.96 510.69L325.78 510.69L326.6 510.69L327.41 510.69L328.23 510.69L329.05 510.69L329.87 510.69L330.69 510.69L331.51 510.7L332.33 510.7L333.14 510.7L333.96 510.7L334.78 510.7L335.6 510.7" fill="none" stroke="#008000" stroke-width="1.2" stroke-linejoin="round" />
<path clip-path="url(#c8)" d="M211 483.2L211.44 483.91L211.9 484.62L212.36 485.32L212.83 486.02L213.31 486.7L213.8 487.38L214.29 488.05L214.79 488.72L215.3 489.38L215.82 490.03L216.35 490.68L216.89 491.33L217.43 491.97L217.99 492.6L218.55 493.22L219.13 493.83L219.71 494.43L220.3 495.01L220.91 495.58L221.52 496.15L222.15 496.72L222.78 497.29L223.43 497.84L224.08 498.37L224.75 498.89L225.43 499.37L226.12 499.83L226.82 500.26L227.54 500.65L228.27 501.05L229.02 501.43L229.78 501.8L230.56 502.15L231.34 502.48L232.13 502.78L232.93 503.06L233.73 503.3L234.53 503.51L235.33 503.69L236.14 503.87L236.95 504.04L237.78 504.21L238.61 504.36L239.44 504.5L240.27 504.63L241.11 504.74L241.94 504.84L242.78 504.92L243.61 504.98L244.44 505.02L245.28 505.06L246.11 505.1L246.94 505.13L247.78 505.16L248.61 505.19L249.45 505.21L250.28 505.24L251.12 505.26L251.96 505.28L252.79 505.3L253.63 505.32L254.47 505.34L255.31 505.36L256.14 505.37L256.98 505.39L257.82 505.41L258.66 505.42L259.5 505.44L260.33 505.45L261.17 505.47L262.01 505.49L262.85 505.5L263.68 505.52L264.52 505.54L265.35 505.55L266.19 505.57L267.03 505.58L267.86 505.6L268.7 505.61L269.54 505.62L270.37 505.64L271.21 505.65L272.05 505.66L272.88 505.67L273.72 505.69L274.56 505.7L275.39 505.71L276.23 505.73L277.06 505.74L277.9 505.76L278.74 505.77L279.57 505.79L280.41 505.81L281.25 505.83L282.08 505.84L282.92 505.86L283.76 505.88L284.59 505.9L285.43 505.92L286.26 505.94L287.1 505.95L287.94 505.97L288.77 505.99L289.61 506.01L290.45 506.03L291.28 506.05L292.12 506.07L292.95 506.09L293.79 506.11L294.63 506.13L295.46 506.15L296.3 506.17L297.14 506.2L297.97 506.22L298.81 506.24L299.65 506.26L300.48 506.28L301.32 506.3L302.15 506.33L302.99 506.35L303.83 506.37L304.66 506.4L305.5 506.42L306.34 506.44L307.17 506.47L308.01 506.49L308.84 506.51L309.68 506.54L310.52 506.56L311.35 506.59L312.19 506.61L313.02 506.64L313.86 506.66L314.7 506.69L315.53 506.71L316.37 506.74L317.21 506.77L318.04 506.79L318.88 506.82L319.71 506.85L320.55 506.87L321.39 506.9L322.22 506.93L323.06 506.96L323.89 506.98L324.73 507.01L325.57 507.04L326.4 507.07L327.24 507.1L328.08 507.13L328.91 507.16L329.75 507.19L330.58 507.22L331.42 507.25L332.26 507.28L333.09 507.31L333.93 507.34L334.76 507.37L335.6 507.4" fill="none" stroke="#0000ff" stroke-width="1.2" stroke-linejoin="round" />
<path clip-path="url(#c8)" d="M211 451.4L211.3 452.33L211.59 453.27L211.85 454.21L212.07 455.16L212.25 456.11L212.37 457.07L212.46 458.03L212.53 459.01L212.59 459.98L212.65 460.96L212.71 461.93L212.78 462.91L212.87 463.87L212.99 464.83L213.14 465.8L213.31 466.75L213.5 467.71L213.7 468.67L213.93 469.62L214.16 470.57L214.41 471.51L214.65 472.45L214.91 473.39L215.17 474.33L215.45 475.27L215.74 476.21L216.05 477.14L216.38 478.07L216.73 478.99L217.09 479.89L217.47 480.78L217.88 481.65L218.3 482.5L218.77 483.35L219.28 484.2L219.82 485.03L220.39 485.85L220.99 486.65L221.61 487.41L222.25 488.13L222.91 488.81L223.6 489.46L224.33 490.08L225.1 490.68L225.91 491.26L226.74 491.81L227.59 492.33L228.45 492.81L229.3 493.25L230.17 493.67L231.05 494.06L231.95 494.44L232.87 494.79L233.79 495.13L234.72 495.44L235.66 495.73L236.6 495.99L237.53 496.24L238.48 496.46L239.43 496.67L240.38 496.87L241.34 497.05L242.3 497.23L243.27 497.39L244.23 497.53L245.19 497.68L246.15 497.82L247.12 497.95L248.09 498.08L249.05 498.19L250.02 498.3L250.99 498.4L251.96 498.48L252.93 498.55L253.9 498.62L254.87 498.68L255.84 498.74L256.81 498.8L257.78 498.85L258.76 498.9L259.73 498.95L260.7 498.99L261.68 499.03L262.65 499.08L263.62 499.12L264.6 499.16L265.57 499.2L266.54 499.24L267.52 499.29L268.49 499.33L269.46 499.37L270.43 499.42L271.41 499.47L272.38 499.52L273.35 499.56L274.32 499.61L275.3 499.66L276.27 499.7L277.24 499.75L278.21 499.8L279.19 499.84L280.16 499.89L281.13 499.93L282.1 499.98L283.08 500.03L284.05 500.07L285.02 500.12L285.99 500.16L286.97 500.21L287.94 500.25L288.91 500.3L289.88 500.34L290.86 500.39L291.83 500.43L292.8 500.48L293.77 500.52L294.75 500.56L295.72 500.61L296.69 500.65L297.66 500.7L298.64 500.74L299.61 500.78L300.58 500.83L301.55 500.87L302.53 500.91L303.5 500.95L304.47 501L305.45 501.04L306.42 501.08L307.39 501.12L308.36 501.17L309.34 501.21L310.31 501.25L311.28 501.29L312.25 501.33L313.23 501.38L314.2 501.42L315.17 501.46L316.14 501.5L317.12 501.54L318.09 501.58L319.06 501.62L320.04 501.66L321.01 501.71L321.98 501.75L322.95 501.79L323.93 501.83L324.9 501.87L325.87 501.91L326.84 501.95L327.82 501.99L328.79 502.03L329.76 502.07L330.74 502.11L331.71 502.14L332.68 502.18L333.65 502.22L334.63 502.26L335.6 502.3" fill="none" stroke="#ff00ff" stroke-width="1.2" stroke-linejoin="round" />
<path clip-path="url(#c8)" d="M211 437.7L211.8 438.07L212.53 438.52L213.22 439.07L213.87 439.66L214.5 440.26L215.1 440.89L215.69 441.54L216.28 442.19L216.86 442.85L217.44 443.5L218.02 444.16L218.58 444.82L219.15 445.49L219.72 446.15L220.3 446.81L220.88 447.46L221.48 448.1L222.07 448.74L222.66 449.38L223.25 450.03L223.83 450.68L224.41 451.34L224.99 452L225.56 452.66L226.13 453.32L226.69 453.99L227.24 454.67L227.78 455.36L228.31 456.06L228.83 456.77L229.35 457.49L229.88 458.2L230.4 458.9L230.93 459.6L231.48 460.28L232.03 460.95L232.61 461.59L233.21 462.21L233.83 462.8L234.47 463.39L235.13 463.97L235.8 464.53L236.49 465.08L237.2 465.61L237.91 466.13L238.62 466.64L239.35 467.13L240.07 467.61L240.81 468.08L241.56 468.55L242.33 468.99L243.1 469.39L243.89 469.75L244.69 470.08L245.5 470.38L246.32 470.68L247.15 470.95L247.99 471.22L248.84 471.46L249.69 471.7L250.54 471.92L251.39 472.12L252.24 472.31L253.09 472.49L253.95 472.65L254.81 472.82L255.67 472.97L256.53 473.11L257.39 473.25L258.26 473.39L259.13 473.51L259.99 473.64L260.86 473.76L261.73 473.87L262.6 473.99L263.46 474.1L264.33 474.21L265.2 474.31L266.06 474.41L266.93 474.52L267.8 474.61L268.67 474.71L269.54 474.8L270.41 474.9L271.28 474.99L272.15 475.08L273.02 475.16L273.89 475.25L274.76 475.33L275.63 475.41L276.5 475.49L277.37 475.57L278.24 475.65L279.11 475.72L279.98 475.8L280.85 475.87L281.72 475.94L282.6 476L283.47 476.06L284.34 476.12L285.21 476.18L286.08 476.24L286.96 476.3L287.83 476.36L288.7 476.42L289.57 476.49L290.44 476.56L291.31 476.64L292.18 476.71L293.05 476.8L293.92 476.88L294.79 476.96L295.66 477.05L296.53 477.14L297.4 477.24L298.27 477.33L299.14 477.43L300.01 477.53L300.88 477.62L301.74 477.72L302.61 477.82L303.48 477.93L304.35 478.03L305.22 478.13L306.09 478.23L306.95 478.34L307.82 478.44L308.69 478.54L309.56 478.64L310.43 478.74L311.29 478.84L312.16 478.94L313.03 479.04L313.9 479.14L314.77 479.24L315.64 479.34L316.5 479.44L317.37 479.54L318.24 479.64L319.11 479.74L319.98 479.84L320.85 479.94L321.71 480.04L322.58 480.14L323.45 480.25L324.32 480.35L325.19 480.45L326.05 480.55L326.92 480.66L327.79 480.76L328.66 480.86L329.53 480.97L330.39 481.07L331.26 481.18L332.13 481.28L333 481.38L333.86 481.49L334.73 481.59L335.6 481.7" fill="none" stroke="#800080" stroke-width="1.15" stroke-linejoin="round" />
<path clip-path="url(#c8)" d="M210.9 405.7L211.73 405.76L212.53 405.89L213.32 406.11L214.08 406.44L214.81 406.81L215.53 407.2L216.22 407.64L216.91 408.1L217.6 408.56L218.29 409L219 409.42L219.7 409.86L220.4 410.29L221.1 410.72L221.81 411.14L222.52 411.55L223.23 411.95L223.96 412.33L224.69 412.7L225.43 413.06L226.17 413.42L226.92 413.76L227.67 414.1L228.43 414.42L229.19 414.73L229.95 415.02L230.72 415.3L231.5 415.58L232.27 415.84L233.06 416.1L233.84 416.35L234.63 416.59L235.42 416.82L236.21 417.04L237 417.25L237.8 417.45L238.6 417.65L239.4 417.83L240.2 418.01L241 418.18L241.81 418.35L242.61 418.52L243.42 418.68L244.22 418.84L245.03 419L245.84 419.16L246.64 419.31L247.45 419.45L248.26 419.6L249.07 419.74L249.88 419.89L250.69 420.03L251.5 420.17L252.31 420.32L253.11 420.46L253.92 420.61L254.73 420.75L255.54 420.89L256.35 421.03L257.16 421.17L257.97 421.32L258.78 421.46L259.59 421.61L260.4 421.76L261.2 421.91L262.01 422.06L262.81 422.22L263.62 422.39L264.42 422.56L265.22 422.73L266.03 422.91L266.83 423.09L267.63 423.27L268.43 423.45L269.23 423.64L270.03 423.83L270.83 424.02L271.63 424.21L272.43 424.41L273.23 424.6L274.02 424.79L274.82 424.99L275.62 425.18L276.42 425.37L277.22 425.56L278.02 425.75L278.82 425.93L279.62 426.11L280.42 426.29L281.23 426.47L282.03 426.64L282.84 426.81L283.64 426.98L284.44 427.15L285.25 427.32L286.05 427.49L286.86 427.66L287.66 427.84L288.46 428.02L289.26 428.2L290.06 428.39L290.86 428.59L291.65 428.79L292.44 429L293.23 429.21L294.02 429.43L294.81 429.66L295.6 429.88L296.39 430.12L297.18 430.35L297.96 430.59L298.75 430.83L299.53 431.08L300.32 431.32L301.1 431.57L301.88 431.82L302.67 432.07L303.45 432.33L304.23 432.58L305.02 432.83L305.8 433.09L306.58 433.34L307.36 433.59L308.15 433.85L308.93 434.1L309.71 434.35L310.5 434.59L311.28 434.84L312.07 435.08L312.85 435.32L313.64 435.57L314.42 435.81L315.2 436.05L315.99 436.29L316.77 436.54L317.56 436.78L318.34 437.02L319.13 437.27L319.91 437.51L320.7 437.75L321.48 438L322.27 438.24L323.05 438.48L323.84 438.73L324.62 438.97L325.41 439.22L326.19 439.46L326.97 439.7L327.76 439.95L328.54 440.19L329.33 440.44L330.11 440.68L330.9 440.93L331.68 441.17L332.46 441.42L333.25 441.66L334.03 441.91L334.82 442.15L335.6 442.4" fill="none" stroke="#8000ff" stroke-width="1.15" stroke-linejoin="round" />
<path clip-path="url(#c8)" d="M212.9 464.8L226.2 454.6L263.7 422.2" fill="none" stroke="#000" stroke-width="1.1" stroke-linejoin="round" stroke-dasharray="6.5 3.6"/>
<circle cx="212.9" cy="464.8" r="1.7" fill="#fff" fill-opacity="0.55" stroke="#222" stroke-width="0.7"/>
<path d="M226.2 452.8l1.8 1.8l-1.8 1.8l-1.8 -1.8z" fill="none" stroke="#222" stroke-width="0.6"/>
<path d="M263.7 420.4l1.8 1.8l-1.8 1.8l-1.8 -1.8z" fill="none" stroke="#222" stroke-width="0.6"/>
<path clip-path="url(#c8)" d="M216.6 479.5L215.2 488.9L212.6 500.5L211.8 507" fill="none" stroke="#111" stroke-width="1.0" stroke-linejoin="round" stroke-dasharray="5.5 3"/>
<path d="M214.9 474.8L216.9 476.2L218.9 474.8L216.9 481Z" fill="#222" stroke="#222" stroke-width="0.4" stroke-linejoin="round"/>
<path d="M213.5 486.2L215.2 487.3L216.9 486.2L215.1 491.2Z" fill="#222" stroke="#222" stroke-width="0.3" stroke-linejoin="round"/>
<path d="M211.3 498.6L212.6 499.5L213.9 498.6L212.5 502.6Z" fill="#333" stroke="#333" stroke-width="0.3" stroke-linejoin="round"/>
<circle cx="211.8" cy="508.5" r="1.4" fill="none" stroke="#555" stroke-width="0.6"/>
<path d="M218.4 421V413" stroke="#000" stroke-width="0.9" fill="none"/>
<path d="M218.4 408.1L220.7 415.2L218.4 413.7L216.1 415.2Z" fill="#000"/>
<text x="175.2" y="30.5" font-size="16" fill="#000" stroke="#000" text-anchor="middle">(a)</text>
<text x="318.6" y="30.5" font-size="16" fill="#000" stroke="#000" text-anchor="middle">(b)</text>
<text x="175.4" y="161.3" font-size="16" fill="#000" stroke="#000" text-anchor="middle">(c)</text>
<text x="318.2" y="161.5" font-size="16" fill="#000" stroke="#000" text-anchor="middle">(d)</text>
<text x="176" y="292.2" font-size="16" fill="#000" stroke="#000" text-anchor="middle">(e)</text>
<text x="318.5" y="291.5" font-size="16" fill="#000" stroke="#000" text-anchor="middle">(f)</text>
<text x="176.4" y="422" font-size="16" fill="#000" stroke="#000" text-anchor="middle">(g)</text>
<text x="319.8" y="421.5" font-size="16" fill="#000" stroke="#000" text-anchor="middle">(h)</text>
<text x="100.4" y="45.2" font-size="12.5" fill="#000" stroke="#000" text-anchor="middle" style="stroke-width:0.15px"><tspan font-size="10.5" style="stroke-width:0">×</tspan><tspan dx="0.6">100</tspan></text>
<text x="238.7" y="45.1" font-size="12.5" fill="#000" stroke="#000" text-anchor="middle" style="stroke-width:0.15px"><tspan font-size="10.5" style="stroke-width:0">×</tspan><tspan dx="0.6">10</tspan></text>
<text x="161.6" y="99.4" font-size="12.5" fill="#000" stroke="#000" text-anchor="middle" style="stroke-width:0.15px">0.003 T</text>
<text x="308" y="99.4" font-size="12.5" fill="#ff0000" stroke="#ff0000" text-anchor="middle" style="stroke-width:0.15px">0.01 T</text>
<text x="168.8" y="230.8" font-size="12.5" fill="#008000" stroke="#008000" text-anchor="middle" style="stroke-width:0.15px">0.1 T</text>
<text x="312.1" y="231.8" font-size="12.5" fill="#0000ff" stroke="#0000ff" text-anchor="middle" style="stroke-width:0.15px">0.5 T</text>
<text x="169" y="366.6" font-size="12.5" fill="#ff00ff" stroke="#ff00ff" text-anchor="middle" style="stroke-width:0.15px">1 T</text>
<text x="316.3" y="365.7" font-size="12.5" fill="#800080" stroke="#800080" text-anchor="middle" style="stroke-width:0.15px">3 T</text>
<text x="172" y="497.6" font-size="12.5" fill="#8000ff" stroke="#8000ff" text-anchor="middle" style="stroke-width:0.15px">7 T</text>
<text x="294.5" y="456.5" font-size="12.9" fill="#000" stroke="#000" text-anchor="middle" style="stroke-width:0.02px">H // c</text>
<text x="249.4" y="448.6" font-size="12.5" fill="#000" stroke="#000" text-anchor="start" style="stroke-width:0.15px">T<tspan font-size="7.5" dx="0.3" dy="5.3" style="stroke-width:0.05px">2</tspan></text>
<text x="221.1" y="480.3" font-size="12.5" fill="#000" stroke="#000" text-anchor="start" style="stroke-width:0.15px">T<tspan font-size="7.5" dx="0.6" dy="5.2" style="stroke-width:0.05px">1</tspan></text>
<text x="129.3" y="546.4" font-size="16" fill="#000" stroke="#000" text-anchor="middle">T (K)</text>
<text x="271.2" y="546.4" font-size="16" fill="#000" stroke="#000" text-anchor="middle">T (K)</text>
<text transform="translate(31.2 251.3) rotate(-90) scale(1 1.09)" font-size="15.2" text-anchor="middle" stroke="#000">M (µ<tspan font-size="10.5" dy="4.6">B</tspan><tspan dy="-4.6">/f.u.)</tspan></text>
</svg>
</body></html>
